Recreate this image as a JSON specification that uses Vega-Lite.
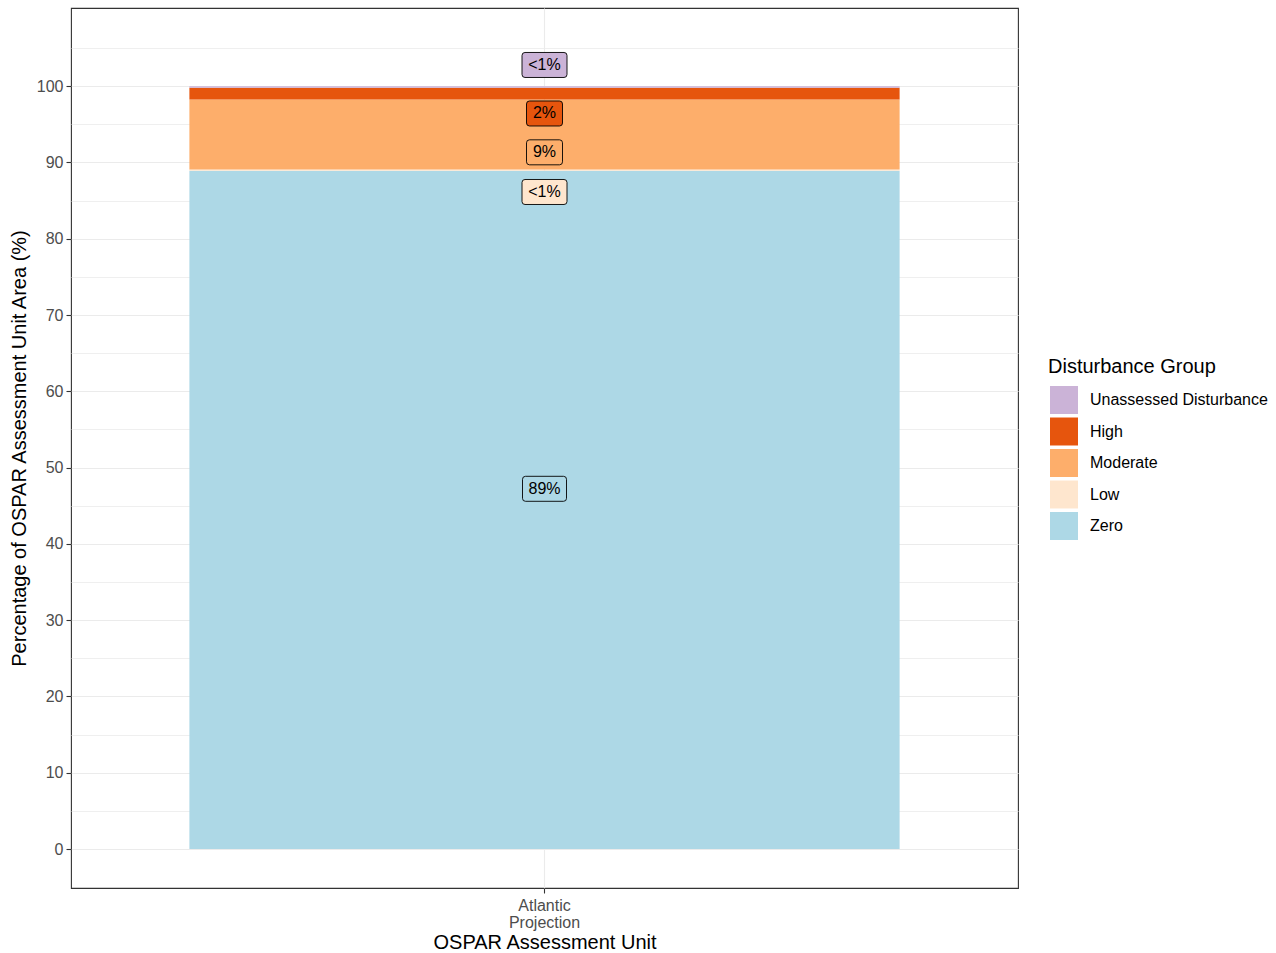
{
  "$schema": "https://vega.github.io/schema/vega-lite/v6.json",
  "width": 947,
  "height": 880,
  "autosize": {"type": "none"},
  "padding": {"left": 71, "top": 8, "right": 258, "bottom": 65},
  "background": "white",
  "config": {
    "font": "Liberation Sans",
    "view": {"stroke": "#333333", "strokeWidth": 1.1},
    "axis": {"gridColor": "#EBEBEB", "gridWidth": 1.1, "domain": false, "tickColor": "#333333", "tickSize": 5, "tickWidth": 1.1, "labelColor": "#4D4D4D", "labelFontSize": 16, "titleFontSize": 20, "titleColor": "#000000", "titleFontWeight": "normal", "labelPadding": 3},
    "legend": {"titleFontSize": 20, "titleFontWeight": "normal", "titleColor": "#000000", "labelFontSize": 16, "labelColor": "#000000", "labelLimit": 400}
  },
  "datasets": {
    "bars": [
      {"Unit": "Atlantic Projection", "Group": "Zero", "Percent": 88.93, "rank": 1},
      {"Unit": "Atlantic Projection", "Group": "Low", "Percent": 0.15, "rank": 2},
      {"Unit": "Atlantic Projection", "Group": "Moderate", "Percent": 9.17, "rank": 3},
      {"Unit": "Atlantic Projection", "Group": "High", "Percent": 1.55, "rank": 4},
      {"Unit": "Atlantic Projection", "Group": "Unassessed Disturbance", "Percent": 0.2, "rank": 5}
    ],
    "labels": [
      {"Unit": "Atlantic Projection", "Group": "Zero", "Label": "89%", "LabelY": 47.22},
      {"Unit": "Atlantic Projection", "Group": "Low", "Label": "<1%", "LabelY": 86.13},
      {"Unit": "Atlantic Projection", "Group": "Moderate", "Label": "9%", "LabelY": 91.33},
      {"Unit": "Atlantic Projection", "Group": "High", "Label": "2%", "LabelY": 96.42},
      {"Unit": "Atlantic Projection", "Group": "Unassessed Disturbance", "Label": "<1%", "LabelY": 102.78}
    ]
  },
  "layer": [
    {
      "data": {"name": "bars"},
      "mark": {"type": "bar"},
      "encoding": {
        "x": {
          "field": "Unit", "type": "nominal",
          "scale": {"paddingInner": 0, "paddingOuter": 0.1667},
          "axis": {"title": "OSPAR Assessment Unit", "labelAngle": 0, "labelExpr": "split(datum.label, ' ')", "labelLineHeight": 17.5, "labelPadding": 4, "titlePadding": 2, "grid": true}
        },
        "y": {
          "field": "Percent", "type": "quantitative", "stack": "zero",
          "scale": {"domain": [-5.11, 110.25], "nice": false, "zero": false},
          "axis": {"title": "Percentage of OSPAR Assessment Unit Area (%)", "values": [0, 10, 20, 30, 40, 50, 60, 70, 80, 90, 100], "titlePadding": 7, "orient": "left"}
        },
        "color": {
          "field": "Group", "type": "nominal",
          "scale": {"domain": ["Unassessed Disturbance", "High", "Moderate", "Low", "Zero"], "range": ["#CBB3D7", "#E6550D", "#FDAE6B", "#FEE6CE", "#ADD8E6"]},
          "sort": ["Unassessed Disturbance", "High", "Moderate", "Low", "Zero"],
          "legend": {"title": "Disturbance Group", "orient": "none", "legendX": 977, "legendY": 349, "symbolType": "square", "symbolSize": 784, "symbolStrokeWidth": 0, "symbolOffset": 2, "rowPadding": 3.5, "labelOffset": 12, "titlePadding": 9, "titleBaseline": "top"}
        },
        "order": {"field": "rank", "type": "quantitative", "sort": "ascending"}
      }
    },
    {
      "data": {"name": "bars"},
      "mark": {"type": "rule", "color": "#EBEBEB", "strokeWidth": 0},
      "encoding": {
        "y": {
          "field": "Percent", "type": "quantitative", "aggregate": "min",
          "axis": {"values": [5, 15, 25, 35, 45, 55, 65, 75, 85, 95, 105], "labels": false, "ticks": false, "title": null, "grid": true, "gridWidth": 0.8, "orient": "left", "zindex": 0}
        }
      }
    },
    {
      "data": {"name": "labels"},
      "mark": {"type": "point", "filled": true, "size": 4, "stroke": "#000000", "strokeWidth": 0.9, "opacity": 1},
      "encoding": {
        "x": {"field": "Unit", "type": "nominal"},
        "y": {"field": "LabelY", "type": "quantitative", "axis": null},
        "fill": {
          "field": "Group", "type": "nominal",
          "scale": {"domain": ["Unassessed Disturbance", "High", "Moderate", "Low", "Zero"], "range": ["#CBB3D7", "#E6550D", "#FDAE6B", "#FEE6CE", "#ADD8E6"]},
          "legend": null
        },
        "shape": {
          "field": "Label", "type": "nominal",
          "scale": {"domain": ["<1%", "2%", "9%", "89%"], "range": [
            "M -19.5 -12.5 L 19.5 -12.5 Q 22.5 -12.5 22.5 -9.5 L 22.5 9.5 Q 22.5 12.5 19.5 12.5 L -19.5 12.5 Q -22.5 12.5 -22.5 9.5 L -22.5 -9.5 Q -22.5 -12.5 -19.5 -12.5 Z",
            "M -15 -12.5 L 15 -12.5 Q 18 -12.5 18 -9.5 L 18 9.5 Q 18 12.5 15 12.5 L -15 12.5 Q -18 12.5 -18 9.5 L -18 -9.5 Q -18 -12.5 -15 -12.5 Z",
            "M -15 -12.5 L 15 -12.5 Q 18 -12.5 18 -9.5 L 18 9.5 Q 18 12.5 15 12.5 L -15 12.5 Q -18 12.5 -18 9.5 L -18 -9.5 Q -18 -12.5 -15 -12.5 Z",
            "M -19 -12.5 L 19 -12.5 Q 22 -12.5 22 -9.5 L 22 9.5 Q 22 12.5 19 12.5 L -19 12.5 Q -22 12.5 -22 9.5 L -22 -9.5 Q -22 -12.5 -19 -12.5 Z"
          ]},
          "legend": null
        }
      }
    },
    {
      "data": {"name": "labels"},
      "mark": {"type": "text", "fontSize": 16, "color": "#000000", "baseline": "middle", "align": "center"},
      "encoding": {
        "x": {"field": "Unit", "type": "nominal"},
        "y": {"field": "LabelY", "type": "quantitative", "axis": null},
        "text": {"field": "Label"}
      }
    }
  ],
  "resolve": {"axis": {"y": "independent"}, "scale": {"fill": "independent"}}
}
